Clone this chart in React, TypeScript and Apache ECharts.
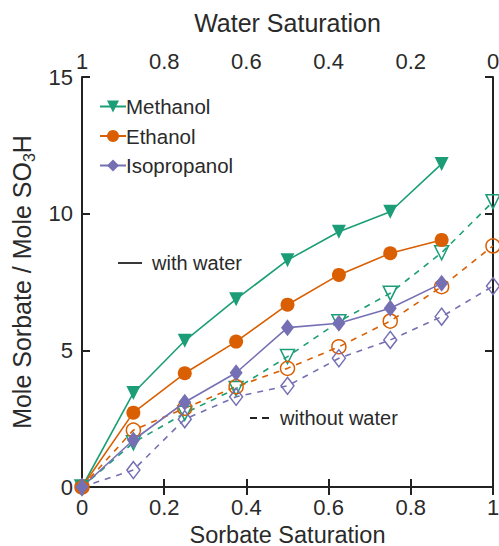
import React, { useEffect, useRef } from "react";
import * as echarts from "echarts";

const sorbateSat = [0, 0.125, 0.25, 0.375, 0.5, 0.625, 0.75, 0.875, 1];

const methanolWet = [0, 3.44, 5.35, 6.87, 8.3, 9.34, 10.07, 11.82];
const ethanolWet = [0, 2.72, 4.16, 5.32, 6.67, 7.76, 8.55, 9.04];
const isopropanolWet = [0, 1.72, 3.1, 4.18, 5.83, 5.99, 6.54, 7.45];

const methanolDry = [0, 1.62, 2.7, 3.6, 4.77, 6.05, 7.09, 8.57, 10.44];
const ethanolDry = [0, 2.08, 2.88, 3.67, 4.34, 5.13, 6.07, 7.33, 8.82];
const isopropanolDry = [0, 0.62, 2.48, 3.3, 3.7, 4.71, 5.38, 6.23, 7.35];

const yTicks = [0, 5, 10, 15];

const GREEN = "#1b9e77";
const ORANGE = "#d95f02";
const PURPLE = "#7570b3";
const FONT = "'Liberation Sans', Arial, sans-serif";
const TEXT = "#2a2a2a";

const pairs = (vals: number[]) => vals.map((v, i) => [sorbateSat[i], v]);

export default function App() {
  const ref = useRef<HTMLDivElement>(null);
  useEffect(() => {
    if (!ref.current) return;
    const chart = echarts.init(ref.current, null, { renderer: "svg" });
    const axisLine = { show: true, lineStyle: { color: "#222", width: 2 } };
    const axisTick = { show: true, inside: true, length: 8, lineStyle: { color: "#222", width: 2 } };
    const solid = (name: string, data: number[], color: string, symbol: string, size: any, rotate = 0) => ({
      name,
      type: "line",
      data: pairs(data),
      symbol,
      symbolSize: size,
      symbolRotate: rotate,
      lineStyle: { color, width: 1.6, type: "solid" },
      itemStyle: { color },
      z: 3,
    });
    const dashed = (name: string, data: number[], color: string, symbol: string, size: any, rotate = 0) => ({
      name,
      type: "line",
      data: pairs(data),
      symbol,
      symbolSize: size,
      symbolRotate: rotate,
      lineStyle: { color, width: 1.6, type: [6, 6] },
      itemStyle: { color: "rgba(255,255,255,0)", borderColor: color, borderWidth: 1.5 },
      z: 2,
    });
    chart.setOption({
      animation: false,
      textStyle: { fontFamily: FONT },
      grid: { left: 82, right: 6, top: 77, bottom: 59, containLabel: false, outerBoundsMode: "none" },
      legend: {
        data: ["Methanol", "Ethanol", "Isopropanol"],
        orient: "vertical",
        left: 94,
        top: 91,
        itemWidth: 26,
        itemHeight: 15,
        itemGap: 8.5,
        textStyle: { fontSize: 20.5, color: TEXT, fontFamily: FONT, padding: [0, 0, 0, -5] },
      },
      xAxis: [
        {
          type: "value",
          min: 0,
          max: 1,
          interval: 0.2,
          position: "bottom",
          name: "Sorbate Saturation",
          nameLocation: "middle",
          nameGap: 25,
          nameTextStyle: { fontSize: 23.5, color: TEXT, fontFamily: FONT, lineHeight: 24 },
          axisLine,
          axisTick,
          splitLine: { show: false },
          axisLabel: { fontSize: 22, color: TEXT, margin: 9, fontFamily: FONT },
        },
        {
          type: "value",
          min: 0,
          max: 1,
          interval: 0.2,
          inverse: true,
          position: "top",
          name: "Water Saturation",
          nameLocation: "middle",
          nameGap: 42,
          nameTextStyle: { fontSize: 25, color: TEXT, fontFamily: FONT },
          axisLine,
          axisTick,
          splitLine: { show: false },
          axisLabel: { fontSize: 22, color: TEXT, margin: 5, fontFamily: FONT },
        },
      ],
      yAxis: [
        {
          type: "value",
          min: yTicks[0],
          max: yTicks[yTicks.length - 1],
          interval: 5,
          position: "left",
          name: "{a|Mole Sorbate / Mole SO}{s|3}{a|H}",
          nameLocation: "middle",
          nameGap: 40,
          nameTextStyle: {
            fontSize: 25,
            color: TEXT,
            fontFamily: FONT,
            rich: {
              a: { fontSize: 25, color: TEXT, fontFamily: FONT, lineHeight: 32, verticalAlign: "middle" },
              s: { fontSize: 16, color: TEXT, fontFamily: FONT, lineHeight: 32, verticalAlign: "bottom" },
            },
          },
          axisLine,
          axisTick,
          splitLine: { show: false },
          axisLabel: { fontSize: 22, color: TEXT, margin: 9, fontFamily: FONT },
        },
        {
          type: "value",
          min: 0,
          max: 15,
          interval: 5,
          position: "right",
          axisLine,
          axisTick,
          splitLine: { show: false },
          axisLabel: { show: false },
        },
      ],
      series: [
        dashed("Methanol dry", methanolDry, GREEN, "triangle", 14, 180),
        dashed("Ethanol dry", ethanolDry, ORANGE, "circle", 14),
        dashed("Isopropanol dry", isopropanolDry, PURPLE, "diamond", [13, 17]),
        solid("Methanol", methanolWet, GREEN, "triangle", 14, 180),
        solid("Ethanol", ethanolWet, ORANGE, "circle", 14),
        solid("Isopropanol", isopropanolWet, PURPLE, "diamond", [13, 17]),
      ],
      graphic: [
        { type: "line", shape: { x1: 118, y1: 263, x2: 142, y2: 263 }, style: { stroke: "#222", lineWidth: 1.8 } },
        { type: "text", x: 152, y: 263, style: { text: "with water", fill: TEXT, font: `20px ${FONT}`, verticalAlign: "middle" } },
        { type: "line", shape: { x1: 250, y1: 418, x2: 272, y2: 418 }, style: { stroke: "#222", lineWidth: 1.8, lineDash: [7, 5] } },
        { type: "text", x: 280, y: 418, style: { text: "without water", fill: TEXT, font: `20px ${FONT}`, verticalAlign: "middle" } },
      ],
    });
    return () => chart.dispose();
  }, []);
  return <div ref={ref} style={{ width: 499, height: 546, position: "absolute", left: 0, top: 0 }} />;
}
